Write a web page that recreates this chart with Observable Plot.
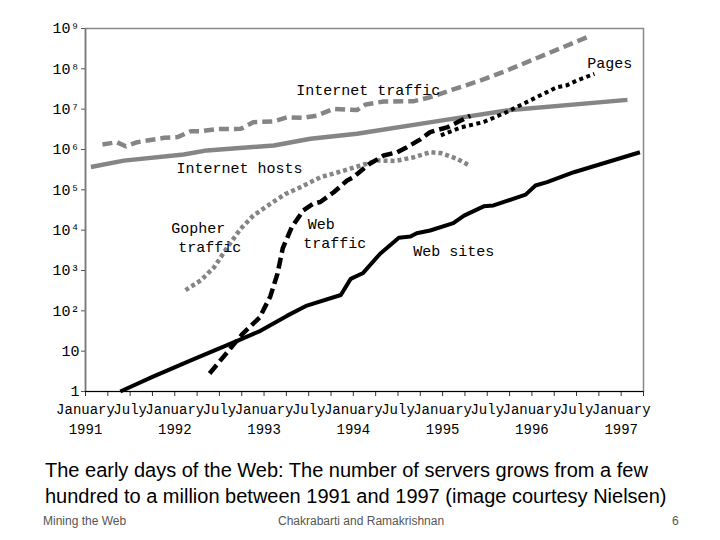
<!DOCTYPE html>
<html>
<head>
<meta charset="utf-8">
<script src="https://cdn.jsdelivr.net/npm/d3@7"></script>
<script src="https://cdn.jsdelivr.net/npm/@observablehq/plot@0.6"></script>
<style>
  body { margin: 0; background: white; width: 720px; height: 540px; position: relative; overflow: hidden; }
  #chart { position: absolute; left: 0; top: 0; }
  #caption { position: absolute; left: 45px; top: 457px; font-family: "Liberation Sans", Arial, sans-serif; font-size: 20px; line-height: 26px; color: #000; white-space: nowrap; }
  .foot { position: absolute; top: 514px; font-family: "Liberation Sans", Arial, sans-serif; font-size: 12px; color: #555; white-space: nowrap; }
</style>
</head>
<body>
<div id="chart"></div>
<div id="caption">The early days of the Web: The number of servers grows from a few<br>hundred to a million between 1991 and 1997 (image courtesy Nielsen)</div>
<div class="foot" style="left:43px">Mining the Web</div>
<div class="foot" style="left:278px">Chakrabarti and Ramakrishnan</div>
<div class="foot" style="left:672px">6</div>
<script>
// ---- data (decimal year, value) ----
const hostsYear = [1991.06, 1991.43, 1992.10, 1992.36, 1993.11, 1993.52, 1994.04, 1994.98, 1995.72, 1997.07];
const hostsVal  = [3.7e5, 5.3e5, 7.5e5, 9.5e5, 1.26e6, 1.85e6, 2.45e6, 5.2e6, 9.3e6, 1.7e7];

const trafficYear = [1991.19, 1991.35, 1991.45, 1991.58, 1991.88, 1992.03, 1992.18, 1992.29, 1992.47, 1992.74, 1992.88, 1993.11, 1993.26, 1993.44, 1993.59, 1993.78, 1994.04, 1994.14, 1994.34, 1994.68, 1994.86, 1995.12, 1995.42, 1995.72, 1996.62];
const trafficVal  = [1.33e6, 1.52e6, 1.2e6, 1.52e6, 1.95e6, 2.03e6, 2.83e6, 2.83e6, 3.2e6, 3.25e6, 4.75e6, 5.0e6, 6.3e6, 6.1e6, 6.9e6, 1.02e7, 9.5e6, 1.31e7, 1.55e7, 1.58e7, 1.98e7, 3.1e7, 5.1e7, 9.1e7, 6.1e8];

const gopherYear = [1992.12, 1992.29, 1992.44, 1992.59, 1992.74, 1992.88, 1993.07, 1993.24, 1993.41, 1993.63, 1993.86, 1994.08, 1994.27, 1994.47, 1994.68, 1994.86, 1994.98, 1995.16, 1995.30];
const gopherVal  = [325, 565, 1200, 3800, 11000, 23000, 45000, 79000, 117000, 205000, 285000, 400000, 535000, 520000, 645000, 855000, 815000, 590000, 400000];

const webTrafficYear = [1992.39, 1992.76, 1992.95, 1993.07, 1993.15, 1993.21, 1993.31, 1993.44, 1993.55, 1993.63, 1993.78, 1993.93, 1994.00, 1994.17, 1994.34, 1994.49, 1994.60, 1994.75, 1994.86, 1995.06, 1995.17, 1995.31];
const webTrafficVal  = [2.8, 27, 68, 228, 830, 3600, 11800, 31000, 45000, 50000, 87000, 170000, 205000, 425000, 710000, 855000, 1.14e6, 1.78e6, 2.7e6, 3.6e6, 4.8e6, 6.9e6];

const webSitesYear = [1991.39, 1991.75, 1992.18, 1992.70, 1992.96, 1993.26, 1993.48, 1993.86, 1993.97, 1994.11, 1994.30, 1994.51, 1994.64, 1994.71, 1994.86, 1995.12, 1995.24, 1995.46, 1995.57, 1995.93, 1996.04, 1996.17, 1996.47, 1997.21];
const webSitesVal  = [1, 2.3, 5.9, 18, 32, 76, 135, 247, 620, 870, 2600, 6460, 6950, 8400, 9800, 14900, 23000, 39000, 41000, 76000, 128000, 155000, 273000, 855000];

const pagesYear = [1994.98, 1995.20, 1995.46, 1995.72, 1995.83, 1995.98, 1996.17, 1996.28, 1996.39, 1996.51, 1996.70];
const pagesVal  = [2.23e6, 3.5e6, 4.8e6, 8.5e6, 1.13e7, 1.65e7, 2.65e7, 3.5e7, 3.9e7, 5.2e7, 7.5e7];

// annotation labels (data coordinates)
const labelText = ["Internet traffic", "Pages", "Internet hosts", "Gopher", "traffic", "Web", "traffic", "Web sites"];
const labelYear = [1993.36, 1996.62, 1992.02, 1991.96, 1992.04, 1993.49, 1993.44, 1994.67];
const labelVal  = [2.9e7, 1.35e8, 3.4e5, 1.1e4, 3700, 1.38e4, 4700, 2960];

// axis ticks
const yTickValues = [1, 10, 1e2, 1e3, 1e4, 1e5, 1e6, 1e7, 1e8, 1e9];
const yTickLabels = ["1", "10", "10²", "10³", "10⁴", "10⁵", "10⁶", "10⁷", "10⁸", "10⁹"];
const xLabelYears = [1991, 1991.5, 1992, 1992.5, 1993, 1993.5, 1994, 1994.5, 1995, 1995.5, 1996, 1996.5, 1997];
const xLabelTexts = ["January\n1991", "July", "January\n1992", "July", "January\n1993", "July", "January\n1994", "July", "January\n1995", "July", "January\n1996", "July", "January\n1997"];
const xQuarterTicks = d3.range(0, 26).map(i => 1991 + i * 0.25);

const toRows = (xs, vs) => xs.map((x, i) => ({x, v: vs[i]}));
const labels = labelText.map((t, i) => ({t, x: labelYear[i], v: labelVal[i]}));

const gray = "#858585";
const mono = "'Liberation Mono', 'Courier New', monospace";
const lineOpts = {x: "x", y: "v", strokeLinecap: "butt", strokeLinejoin: "round"};

const chart = Plot.plot({
  width: 720,
  height: 452,
  marginLeft: 85,
  marginRight: 77,
  marginTop: 28,
  marginBottom: 61,
  x: {domain: [1991, 1997.25]},
  y: {type: "log", domain: [1, 1e9]},
  style: {fontFamily: mono, fontSize: "14px", color: "#000", background: "white", overflow: "visible"},
  marks: [
    Plot.frame({stroke: "#888", strokeWidth: 1.5}),
    Plot.axisY({ticks: yTickValues, tickFormat: d => yTickLabels[yTickValues.indexOf(d)], tickSize: 4, tickPadding: 2, fontSize: 15, stroke: "#555", label: null}),
    Plot.axisX({ticks: xQuarterTicks, tickSize: 5, tickFormat: () => "", stroke: "#333", label: null}),
    Plot.axisX({ticks: xLabelYears, tickSize: 0, tickPadding: 9, tickFormat: d => xLabelTexts[xLabelYears.indexOf(d)], fontSize: 14, lineHeight: 1.4, label: null}),
    Plot.ruleX([1991], {stroke: "#777", strokeWidth: 1.5}),
    Plot.ruleY([1], {stroke: "#000", strokeWidth: 1.2}),
    Plot.line(toRows(trafficYear, trafficVal), {...lineOpts, stroke: gray, strokeWidth: 4.5, strokeDasharray: "10,5"}),
    Plot.line(toRows(hostsYear, hostsVal), {...lineOpts, stroke: gray, strokeWidth: 4.5}),
    Plot.line(toRows(gopherYear, gopherVal), {...lineOpts, stroke: gray, strokeWidth: 4.5, strokeDasharray: "4,3"}),
    Plot.line(toRows(webSitesYear, webSitesVal), {...lineOpts, stroke: "#000", strokeWidth: 4}),
    Plot.line(toRows(webTrafficYear, webTrafficVal), {...lineOpts, stroke: "#000", strokeWidth: 4.5, strokeDasharray: "11,5"}),
    Plot.line(toRows(pagesYear, pagesVal), {...lineOpts, stroke: "#000", strokeWidth: 4, strokeDasharray: "4,3.5"}),
    Plot.text(labels, {x: "x", y: "v", text: "t", textAnchor: "start", fontSize: 15, fill: "#000"})
  ]
});
document.getElementById("chart").appendChild(chart);
</script>
</body>
</html>
